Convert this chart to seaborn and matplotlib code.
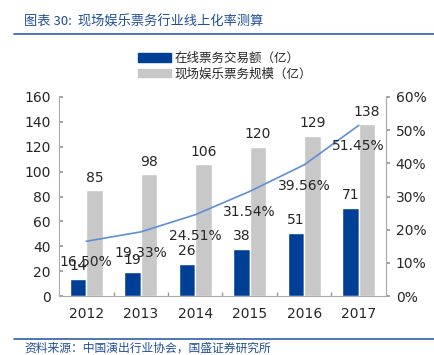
import matplotlib
matplotlib.use("Agg")
import matplotlib.pyplot as plt
import seaborn as sns
import pandas as pd
import numpy as np
from matplotlib.lines import Line2D
from matplotlib.patches import Patch

years = ["2012", "2013", "2014", "2015", "2016", "2017"]
online = [14, 19, 26, 38, 51, 71]
total = [85, 98, 106, 120, 129, 138]
rate = [16.50, 19.33, 24.51, 31.54, 39.56, 51.45]
s_online = "在线票务交易额（亿）"
s_total = "现场娱乐票务规模（亿）"
title = "图表 30:  现场娱乐票务行业线上化率测算"
source = "资料来源：中国演出行业协会，国盛证券研究所"

sns.set_theme(style="white")
plt.rcParams['font.family'] = ['DejaVu Sans', 'Noto Sans CJK SC']
cjk = ['Noto Sans CJK SC', 'DejaVu Sans']

BLUE = "#003F96"
GRAY = "#C8C8C8"
LINE = "#5B8FD8"

df = pd.DataFrame({
    "year": years * 2,
    "value": online + total,
    "series": [s_online] * 6 + [s_total] * 6,
})

fig = plt.figure(figsize=(4.35, 3.55), dpi=100)
ax = fig.add_axes([59/435, 1-296/355, (386-59)/435, (296-97)/355])
sns.barplot(data=df, x="year", y="value", hue="series", palette=[BLUE, GRAY],
            width=0.6, gap=0, ax=ax, legend=False, saturation=1)
ax.set_ylim(0, 160)
ax.set_xlim(-0.5, 5.5)
ax.set_yticks(range(0, 161, 20))
ax.set_xlabel("")
ax.set_ylabel("")
ax.tick_params(axis='y', direction='in', length=3, color="#999999", labelsize=10, pad=6, left=True)
ax.tick_params(axis='x', which='major', length=0, labelsize=10, pad=8)
ax.set_xticks(np.arange(0.5, 5, 1), minor=True)
ax.tick_params(axis='x', which='minor', direction='in', length=3, color="#999999", bottom=True)
ax.spines["top"].set_visible(False)
for sp in ["left", "bottom", "right"]:
    ax.spines[sp].set_color("#AAAAAA")
    ax.spines[sp].set_linewidth(0.8)

for c in ax.containers:
    ax.bar_label(c, padding=4, fontsize=10)

ax2 = ax.twinx()
sns.lineplot(x=np.arange(6), y=np.array(rate) / 100, ax=ax2, color=LINE, lw=1.2)
ax2.set_ylim(0, 0.6)
ax2.set_yticks(np.arange(0, 0.61, 0.1))
ax2.set_yticklabels([f"{int(round(v*100))}%" for v in np.arange(0, 0.61, 0.1)])
ax2.tick_params(axis='y', direction='out', length=3, color="#999999", labelsize=10, pad=4, right=True)
for sp in ["top", "left", "bottom"]:
    ax2.spines[sp].set_visible(False)
ax2.spines["right"].set_color("#AAAAAA")
ax2.spines["right"].set_linewidth(0.8)
for i, r in enumerate(rate):
    ax2.annotate(f"{r:.2f}%", (i, r / 100), xytext=(0, -15), textcoords="offset points",
                 ha="center", va="center", fontsize=10)
ax2.set_xlim(-0.5, 5.5)

handles = [Patch(color=BLUE), Patch(color=GRAY)]
fig.legend(handles, [s_online, s_total], loc="center", bbox_to_anchor=(225/435, 1-66/355),
           frameon=False, prop={'family': cjk, 'size': 9}, handlelength=2.6, handleheight=0.7,
           handletextpad=0.3, labelspacing=0.2)

fig.text(24/435, 1-22/355, title, color="#1F4E9A", fontsize=9.5, family=cjk,
         style="italic", va="center", ha="left")
fig.add_artist(Line2D([14/435, 1], [1-34/355, 1-34/355], color="#2E5FA8", lw=1.2))
fig.add_artist(Line2D([14/435, 1], [1-339/355, 1-339/355], color="#2E5FA8", lw=1.2))
fig.text(24/435, 1-348/355, source, color="#1F4E9A", fontsize=8.5, family=cjk,
         style="italic", va="center", ha="left")

fig.savefig("out.png", dpi=100)
